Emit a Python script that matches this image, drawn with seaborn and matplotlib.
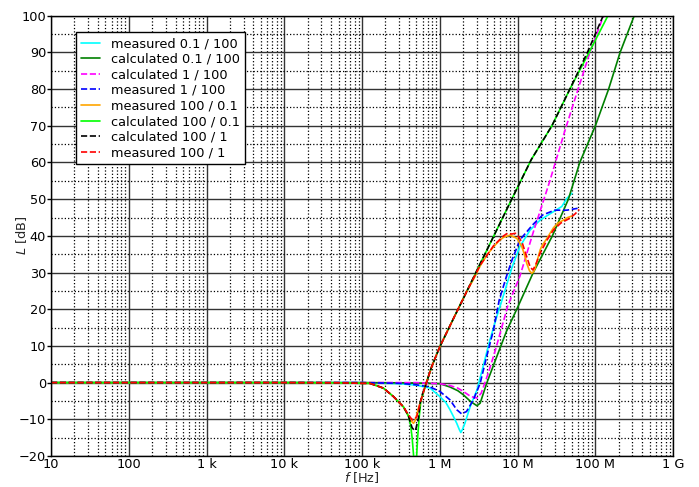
import matplotlib
matplotlib.use('Agg')
import matplotlib.pyplot as plt
import seaborn as sns
from matplotlib.ticker import FixedLocator, FixedFormatter, LogLocator, MultipleLocator, NullFormatter

# ---- data (f in Hz, L in dB) ----
f_meas_01_100 = [10, 1e3, 1e5, 3e5, 5e5, 7.5e5, 1e6, 1.2e6, 1.35e6, 1.5e6, 1.65e6, 1.78e6, 1.86e6,
                 1.95e6, 2.1e6, 2.46e6, 3e6, 3.6e6, 4.4e6, 5.4e6, 6.3e6, 7.2e6, 8.5e6, 10.7e6,
                 14.5e6, 19.5e6, 28.9e6, 37e6, 43e6, 50e6]
L_meas_01_100 = [0, 0, 0, -0.3, -0.7, -1.5, -3.8, -5.5, -7.4, -9.3, -11.1, -12.8, -13.6,
                 -12.8, -11.1, -6.5, -2, 4.4, 11.6, 18, 22.5, 26.5, 31.5, 37.1,
                 41.6, 44.3, 46.6, 48, 50.2, 51.6]

f_calc_01_100 = [10, 1e3, 1e5, 5e5, 1e6, 1.35e6, 1.7e6, 2e6, 2.5e6, 3e6, 3.3e6, 4e6, 5.4e6, 7.2e6,
                 10e6, 15.9e6, 28e6, 45e6, 63e6, 100e6, 148e6, 208e6, 316e6]
L_calc_01_100 = [0, 0, 0, -0.1, -0.3, -1.2, -2.2, -3.3, -5.2, -6.3, -5.6, -0.2, 7.1, 14,
                 20.5, 30, 40, 50, 60, 70, 80, 90, 100]

f_calc_1_100 = [10, 1e3, 1e5, 5e5, 1e6, 1.35e6, 1.7e6, 2e6, 2.5e6, 3e6, 3.4e6, 4.2e6, 5.2e6, 6.3e6,
                7.5e6, 10.7e6, 15.9e6, 26e6, 41e6, 60e6, 85e6, 130e6]
L_calc_1_100 = [0, 0, 0, 0, -0.3, -0.8, -1.5, -2.4, -3.8, -4.2, -2.9, 2.6, 9, 15.3,
                21, 29, 41, 55, 69, 80, 90, 100.5]

f_meas_1_100 = [10, 1e3, 1e5, 3e5, 5e5, 7.5e5, 1e6, 1.35e6, 1.65e6, 1.9e6, 2.2e6, 2.7e6, 3.3e6, 4e6,
                4.9e6, 5.8e6, 7.2e6, 8.5e6, 10.7e6, 15.6e6, 21e6, 30e6, 43e6, 59e6]
L_meas_1_100 = [0, 0, 0, -0.2, -0.6, -1.2, -2.4, -4.7, -7.4, -8.5, -7.9, -4.7, -0.2, 7.1,
                14.4, 22.5, 29, 33.5, 38.9, 43, 45.7, 47, 47, 47.5]

f_meas_100_01 = [10, 1e3, 1e4, 5e4, 1e5, 1.26e5, 1.88e5, 2.53e5, 3.4e5, 3.95e5, 4.3e5, 4.58e5, 4.8e5,
                 5.05e5, 5.3e5, 5.57e5, 6.46e5, 7.87e5, 1e6, 1.5e6, 2.2e6, 2.8e6, 3.3e6, 4.1e6,
                 4.9e6, 5.8e6, 6.6e6, 8e6, 9.8e6, 11.3e6, 12.2e6, 13.1e6, 14.2e6, 15.2e6, 16e6,
                 16.8e6, 18e6, 19.5e6, 21e6, 23.8e6, 28.9e6, 33e6, 38.9e6, 44e6, 49.8e6]
L_meas_100_01 = [0, 0, 0, -0.05, -0.2, -0.2, -1.5, -3.8, -6.6, -9, -10.5, -11.1, -10.4,
                 -8.8, -7, -5.6, -1.1, 4.4, 9.8, 17.5, 24.7, 28.7, 31.8, 35,
                 37, 38.7, 39.6, 40.2, 39.3, 37.1, 35, 32.5, 30.5, 29.8, 30.2,
                 31.2, 33.5, 36.2, 37.6, 39.3, 42.2, 43.5, 44.3, 45, 45.4]

f_calc_100_01 = [10, 1e3, 1e4, 5e4, 1e5, 1.26e5, 1.88e5, 2.53e5, 3.4e5, 3.95e5, 4.2e5, 4.4e5, 4.6e5,
                 4.81e5, 5e5, 5.2e5, 5.45e5, 5.7e5, 6.46e5, 7.87e5, 1e6, 1.5e6, 2.2e6, 3.3e6,
                 5e6, 8.4e6, 15e6, 27.6e6, 47e6, 83e6, 145e6]
L_calc_100_01 = [0, 0, 0, -0.05, -0.2, -0.2, -1.5, -3.8, -6.6, -9.2, -11.5, -15, -20,
                 -30, -21, -14.5, -9, -5, -1.1, 4.4, 9.8, 17.5, 24.7, 32.4,
                 40.2, 50, 60.8, 70, 80, 90, 100]

f_calc_100_1 = [10, 1e3, 1e4, 5e4, 1e5, 1.26e5, 1.88e5, 2.53e5, 3.4e5, 3.95e5, 4.14e5, 4.4e5, 4.7e5,
                4.85e5, 5e5, 5.3e5, 5.57e5, 6e5, 6.46e5, 7.87e5, 1e6, 1.5e6, 2.2e6, 3.3e6,
                5e6, 8.4e6, 15e6, 27.6e6, 47e6, 79e6, 126e6]
L_calc_100_1 = [0, 0, 0, -0.05, -0.2, -0.2, -1.5, -3.8, -6.6, -9, -10.6, -12.3, -13,
                -13.1, -12, -9.8, -5.6, -3, -1.1, 4.4, 9.8, 17.5, 24.7, 32.4,
                40.2, 50, 60.8, 70, 80, 90, 100]

f_meas_100_1 = [10, 1e3, 1e4, 5e4, 1e5, 1.26e5, 1.88e5, 2.53e5, 3.4e5, 3.95e5, 4.25e5, 4.49e5, 4.75e5,
                5.05e5, 5.3e5, 5.57e5, 6.46e5, 7.87e5, 1e6, 1.5e6, 2.2e6, 3.3e6, 4.9e6, 6.6e6,
                7.4e6, 8.4e6, 9.4e6, 10.5e6, 11.5e6, 13e6, 14.5e6, 15.7e6, 17e6, 19.5e6, 23.8e6,
                28.9e6, 36e6, 47e6, 55e6, 62e6]
L_meas_100_1 = [0, 0, 0, -0.05, -0.2, -0.2, -1.5, -3.8, -6.6, -8.8, -9.7, -10.2, -9.9,
                -9.3, -7.5, -5.6, -1.1, 4.4, 9.8, 17.5, 24.7, 32, 37.3, 40,
                40.7, 40.5, 40.7, 39.5, 38, 34.5, 31.5, 30.7, 32, 35.3, 38.8,
                41.6, 43.5, 44.8, 46, 47.2]

x_ticks = [1e1, 1e2, 1e3, 1e4, 1e5, 1e6, 1e7, 1e8, 1e9]
x_tick_labels = ['10', '100', '1 k', '10 k', '100 k', '1 M', '10 M', '100 M', '1 G']

series = [
    ('measured 0.1 / 100', f_meas_01_100, L_meas_01_100, '#00ffff', '-'),
    ('calculated 0.1 / 100', f_calc_01_100, L_calc_01_100, '#008000', '-'),
    ('calculated 1 / 100', f_calc_1_100, L_calc_1_100, '#ff00ff', '--'),
    ('measured 1 / 100', f_meas_1_100, L_meas_1_100, '#0000ff', '--'),
    ('measured 100 / 0.1', f_meas_100_01, L_meas_100_01, '#ffa500', '-'),
    ('calculated 100 / 0.1', f_calc_100_01, L_calc_100_01, '#00ff00', '-'),
    ('calculated 100 / 1', f_calc_100_1, L_calc_100_1, '#000000', '--'),
    ('measured 100 / 1', f_meas_100_1, L_meas_100_1, '#ff0000', '--'),
]

sns.set_style('ticks', {'axes.edgecolor': 'k', 'xtick.color': 'k', 'ytick.color': 'k', 'text.color': 'k'})
plt.rcParams['font.family'] = ['DejaVu Sans']
plt.rcParams['mathtext.fontset'] = 'dejavusans'
plt.rcParams['font.size'] = 9

fig = plt.figure(figsize=(6.99, 4.87), dpi=100)
ax = fig.add_axes([0.073, 0.0637, 0.890, 0.904])
ax.set_xscale('log')

for label, f, L, c, ls in series:
    sns.lineplot(x=f, y=L, ax=ax, color=c, linestyle=ls, lw=1.2, label=label,
                 sort=False, estimator=None)

ax.set_xlim(10, 1e9)
ax.set_ylim(-20, 100)
ax.xaxis.set_major_locator(FixedLocator(x_ticks))
ax.xaxis.set_major_formatter(FixedFormatter(x_tick_labels))
ax.xaxis.set_minor_locator(LogLocator(base=10, subs=range(2, 10), numticks=100))
ax.xaxis.set_minor_formatter(NullFormatter())
ax.yaxis.set_major_locator(MultipleLocator(10))
ax.yaxis.set_minor_locator(MultipleLocator(5))

ax.grid(which='major', color='0.2', ls='-', lw=1.0)
ax.grid(which='minor', color='k', ls=':', lw=0.9)
ax.tick_params(axis='y', which='major', length=3, width=1, direction='out', pad=0.5, labelsize=9.3)
ax.tick_params(axis='x', which='major', length=0, pad=1.5, labelsize=9.3)
ax.tick_params(which='minor', length=0)
for s in ax.spines.values():
    s.set_color('k')
    s.set_linewidth(1.0)

ax.set_xlabel('$f$ [Hz]', fontsize=9.3)
ax.set_ylabel('$L$ [dB]', fontsize=9.3)
ax.xaxis.set_label_coords(0.5, -0.033)
ax.yaxis.set_label_coords(-0.036, 0.5)

leg = ax.legend(loc='upper left', bbox_to_anchor=(0.040, 0.963), borderaxespad=0,
                fontsize=9.3, labelspacing=0.2, handlelength=1.5, handletextpad=0.8,
                borderpad=0.4, fancybox=False, framealpha=1, edgecolor='k')
leg.get_frame().set_linewidth(1.0)

fig.savefig('out.png', dpi=100)
